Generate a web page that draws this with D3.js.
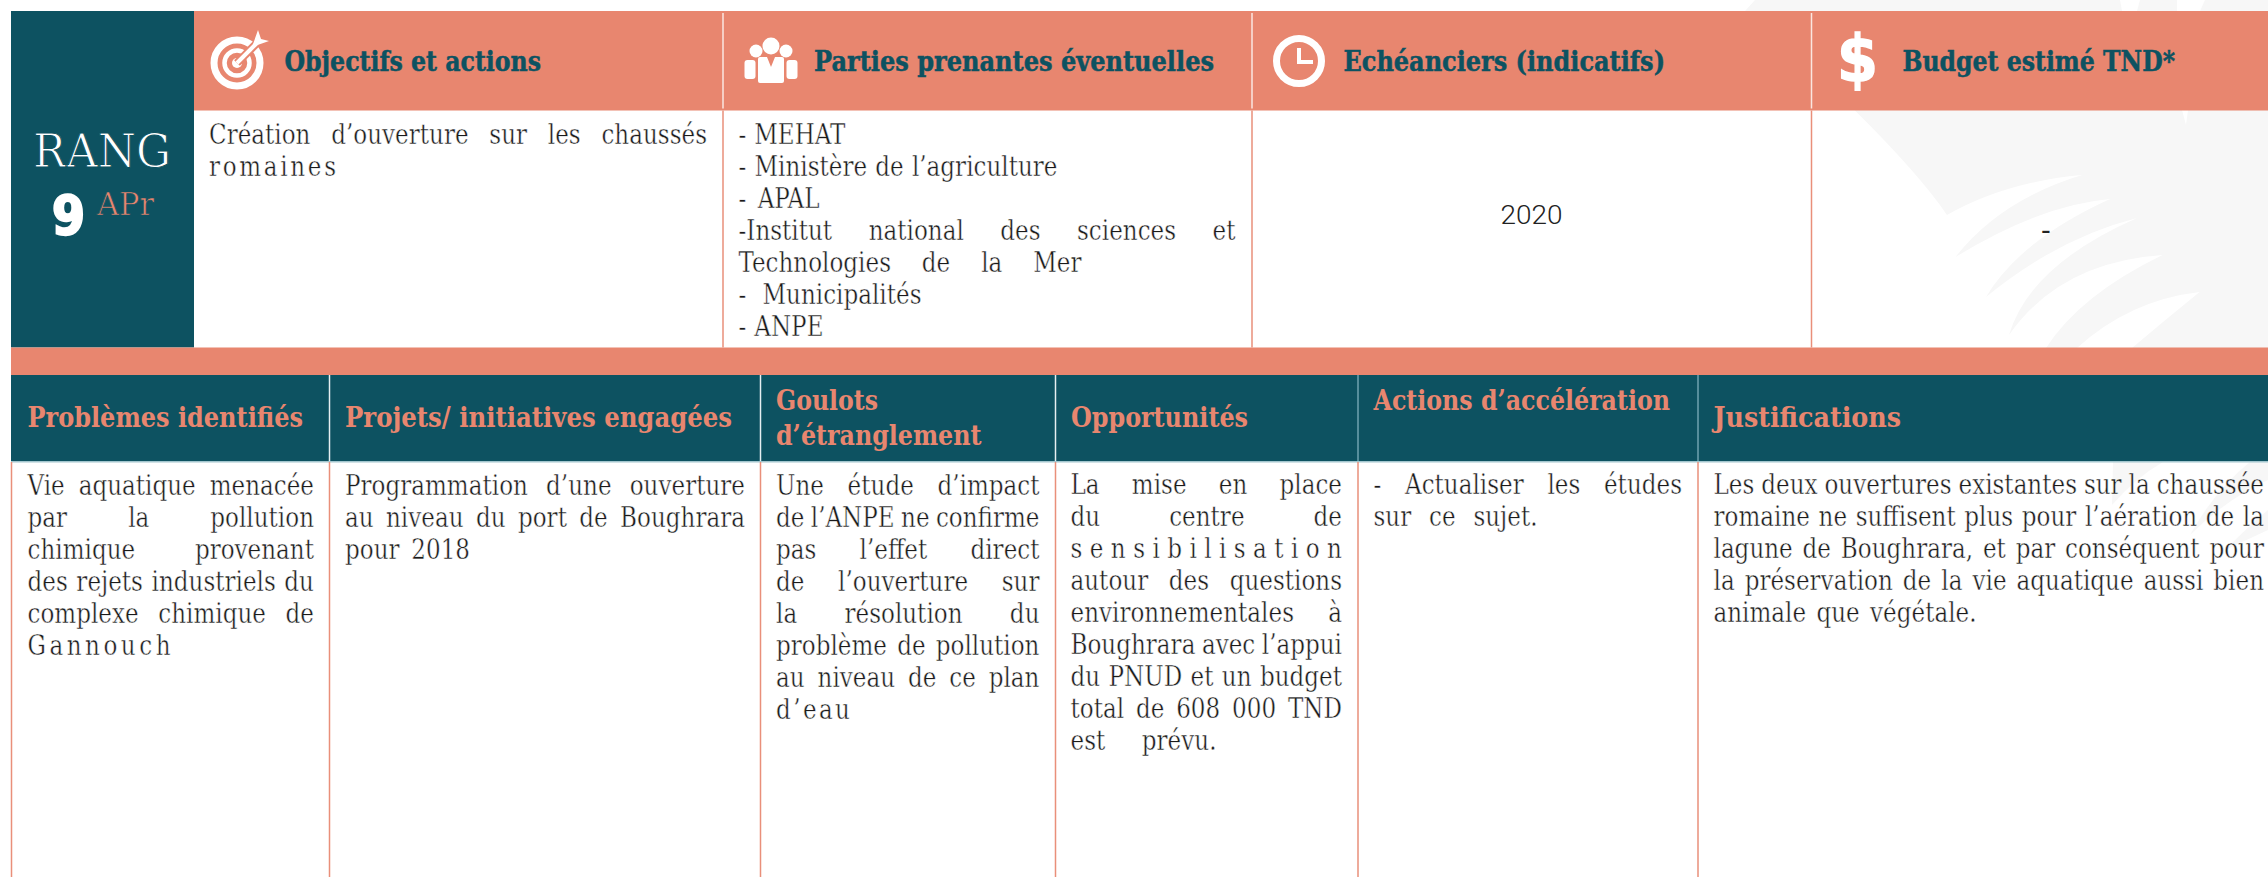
<!DOCTYPE html>
<html>
<head>
<meta charset="utf-8">
<script src="https://cdnjs.cloudflare.com/ajax/libs/d3/7.8.5/d3.min.js"></script>
<style>
  html, body { margin: 0; padding: 0; background: #fff; overflow: hidden; }
  svg { display: block; }
</style>
</head>
<body>
<div id="chart"></div>
<script>
// top table
var topColumns = ["Objectifs et actions", "Parties prenantes éventuelles", "Echéanciers (indicatifs)", "Budget estimé TND*"];
var objectifsLines = ["Création d’ouverture sur les chaussés", "romaines"];
var partiesLines = ["- MEHAT", "- Ministère de l’agriculture", "- APAL", "-Institut national des sciences et", "Technologies de la Mer", "- Municipalités", "- ANPE"];
var echeance = "2020";
var budget = "-";

// bottom table
var bottomColumns = ["Problèmes identifiés", "Projets/ initiatives engagées", "Goulots", "Opportunités", "Actions d’accélération", "Justifications"];
var problemesLines = ["Vie aquatique menacée", "par la pollution", "chimique provenant", "des rejets industriels du", "complexe chimique de", "Gannouch"];
var projetsLines = ["Programmation d’une ouverture", "au niveau du port de Boughrara", "pour 2018"];
var goulotsLines = ["Une étude d’impact", "de l’ANPE ne confirme", "pas l’effet direct", "de l’ouverture sur", "la résolution du", "problème de pollution", "au niveau de ce plan", "d’eau"];
var opportunitesLines = ["La mise en place", "du centre de", "sensibilisation", "autour des questions", "environnementales à", "Boughrara avec l’appui", "du PNUD et un budget", "total de 608 000 TND", "est prévu."];
var actionsLines = ["- Actualiser les études", "sur ce sujet."];
var justificationsLines = ["Les deux ouvertures existantes sur la chaussée", "romaine ne suffisent plus pour l’aération de la", "lagune de Boughrara, et par conséquent pour", "la préservation de la vie aquatique aussi bien", "animale que végétale."];

var width = 2268, height = 877;
var salmon = "#e8866f", teal = "#0d5261", rule = "#e98f7a";
var bodyFont = "'DejaVu Serif Condensed', 'DejaVu Serif', serif";
var bodySize = 27, bodyScaleX = 0.95, bodyPitch = 32;

var svg = d3.select("#chart").append("svg")
    .attr("width", width)
    .attr("height", height);

// palm watermark behind everything
var leaf = svg.append("g").attr("fill", "#f7f7f7");
leaf.append("path").attr("d", "M1854.5,110 Q1920,175 1947,215 Q2005,182 2082,175 Q2000,200 1955.5,257 Q2040,205 2110,199 Q2020,240 1986,297 Q2058,238 2137,218 Q2030,265 2009,335 Q2060,262 2162.5,255 Q2080,295 2046,348 L2077,348 Q2130,300 2199.6,292 Q2165,320 2132,348 L2268,348 L2268,110 Z");
leaf.append("path").attr("d", "M1745,11 L1755,0 L2072,0 L2072,11 L1767,11 L1784,0 L1800,0 L1783,11 Z");
leaf.append("path").attr("d", "M2072,0 L2120,0 L2122,11 L2072,11 Z M2140,0 L2177,0 L2177,11 L2137,11 Z M2205,0 L2268,0 L2268,11 L2200,11 Z");
leaf.append("path").attr("d", "M2113,462 L2163,462 Q2135,478 2112,505 Z");
leaf.append("path").attr("d", "M2190,535 Q2215,490 2250,462 L2268,462 L2268,480 Q2225,500 2190,535 Z");
leaf.append("path").attr("d", "M2225,550 Q2250,525 2268,510 L2268,530 Z");
svg.append("path").attr("fill", "#fff").attr("d", "M2182,110 L2188,110 L2186,125 Z");

// row bands
var rowEdges = d3.scaleOrdinal()
    .domain(["top", "headBottom", "rowBottom", "bandBottom", "darkBottom", "page"])
    .range([11, 110.5, 347.5, 375, 461, height]);
var xTop = d3.scaleOrdinal().domain(d3.range(5)).range([194, 723, 1252, 1811.5, width]);
var xBottom = d3.scaleOrdinal().domain(d3.range(7)).range([11.5, 329.5, 760.5, 1055.5, 1358, 1698, width]);

svg.append("rect").attr("x", 11).attr("y", rowEdges("top")).attr("width", width - 11).attr("height", rowEdges("headBottom") - rowEdges("top")).attr("fill", salmon);
svg.append("rect").attr("x", 11).attr("y", rowEdges("top")).attr("width", xTop(0) - 11).attr("height", rowEdges("rowBottom") - rowEdges("top")).attr("fill", teal);
svg.append("rect").attr("x", 11).attr("y", rowEdges("rowBottom")).attr("width", width - 11).attr("height", rowEdges("bandBottom") - rowEdges("rowBottom")).attr("fill", salmon);
svg.append("rect").attr("x", 11).attr("y", rowEdges("bandBottom")).attr("width", width - 11).attr("height", rowEdges("darkBottom") - rowEdges("bandBottom")).attr("fill", teal);
svg.append("rect").attr("x", 11).attr("y", rowEdges("darkBottom")).attr("width", width - 11).attr("height", 1.5).attr("fill", "#a3c6ce");

// column rules
[1, 2, 3].forEach(function(i) {
  svg.append("line").attr("x1", xTop(i)).attr("x2", xTop(i)).attr("y1", 13).attr("y2", rowEdges("headBottom") - 2).attr("stroke", "#fbe6e0").attr("stroke-width", 1.5);
  svg.append("line").attr("x1", xTop(i)).attr("x2", xTop(i)).attr("y1", rowEdges("headBottom")).attr("y2", rowEdges("rowBottom")).attr("stroke", rule).attr("stroke-width", 1.5);
});
[1, 2, 3, 4, 5].forEach(function(i) {
  svg.append("line").attr("x1", xBottom(i)).attr("x2", xBottom(i)).attr("y1", rowEdges("bandBottom")).attr("y2", rowEdges("darkBottom"))
      .attr("stroke", i > 3 ? "#6fa3b0" : "#e6eff1").attr("stroke-width", 1.5);
});
[0, 1, 2, 3, 4, 5].forEach(function(i) {
  svg.append("line").attr("x1", xBottom(i)).attr("x2", xBottom(i)).attr("y1", rowEdges("darkBottom") + 1).attr("y2", height).attr("stroke", rule).attr("stroke-width", 1.5);
});

// a line of body text: scaled narrow, then spread to the given width
function bodyLine(txt, x, y, fit) {
  var t = svg.append("text")
      .attr("transform", "translate(" + x + "," + y + ") scale(" + bodyScaleX + ",1)")
      .attr("font-family", bodyFont)
      .attr("font-size", bodySize)
      .attr("fill", "#1a1a1a")
      .attr("stroke", "#fff")
      .attr("stroke-width", 0.4)
      .text(txt);
  var natural = t.node().getComputedTextLength();
  var gaps = txt.split(" ").length - 1;
  var extra = fit / bodyScaleX - natural;
  if (gaps > 0) t.style("word-spacing", (extra / gaps) + "px");
  else t.style("letter-spacing", (extra / (txt.length - 1)) + "px");
  return t;
}

// lines that do not run to the full column width
var shortLines = {
  "romaines": 127, "- MEHAT": 107, "- Ministère de l’agriculture": 319, "- APAL": 81,
  "Technologies de la Mer": 343, "- Municipalités": 183, "- ANPE": 85,
  "Gannouch": 143, "pour 2018": 125, "d’eau": 74, "est prévu.": 146,
  "sur ce sujet.": 164, "animale que végétale.": 263
};

function bodyCell(lines, x0, x1, y0) {
  lines.forEach(function(l, i) {
    bodyLine(l, x0, y0 + i * bodyPitch, shortLines[l] || (x1 - x0));
  });
}

bodyCell(objectifsLines, 209, 707, 144);
bodyCell(partiesLines, 738.5, 1235.5, 144);
bodyCell(problemesLines, 27.5, 314, 495);
bodyCell(projetsLines, 345, 745, 495);
bodyCell(goulotsLines, 776, 1039.5, 495);
bodyCell(opportunitesLines, 1070.5, 1342, 494);
bodyCell(actionsLines, 1373.5, 1682, 494);
bodyCell(justificationsLines, 1713.5, 2264, 494);

svg.append("text").attr("x", 1500.5).attr("y", 224).attr("font-family", "Roboto, sans-serif").attr("font-weight", 300).attr("font-size", 26).attr("fill", "#222").attr("textLength", 62).attr("lengthAdjust", "spacingAndGlyphs").text(echeance);
svg.append("text").attr("x", 2046).attr("y", 241).attr("text-anchor", "middle").attr("font-family", "Roboto, sans-serif").attr("font-size", 30).attr("fill", "#222").text(budget);

// headers
function heading(txt, x, y, w, size, fam, fill, thick) {
  svg.append("text").attr("x", x).attr("y", y)
      .attr("font-family", fam).attr("font-weight", "bold").attr("font-size", size)
      .attr("fill", fill).attr("stroke", fill).attr("stroke-width", thick)
      .attr("textLength", w).attr("lengthAdjust", "spacingAndGlyphs")
      .text(txt);
}
var topFont = "'DejaVu Serif', serif", botFont = "'DejaVu Serif Condensed', 'DejaVu Serif', serif";
heading(topColumns[0], 284.5, 70.5, 256.5, 27, topFont, teal, 0.5);
heading(topColumns[1], 814, 70.5, 400, 27, topFont, teal, 0.5);
heading(topColumns[2], 1343.5, 70.5, 321.5, 27, topFont, teal, 0.5);
heading(topColumns[3], 1902.5, 70.5, 272.5, 27, topFont, teal, 0.5);

heading(bottomColumns[0], 27.5, 427, 275.5, 27, botFont, salmon, 0);
heading(bottomColumns[1], 345, 427, 387, 27, botFont, salmon, 0);
heading(bottomColumns[2], 776, 410, 102, 27, botFont, salmon, 0);
heading("d’étranglement", 776, 445, 205.5, 27, botFont, salmon, 0);
heading(bottomColumns[3], 1071, 427, 177, 27, botFont, salmon, 0);
heading(bottomColumns[4], 1373.5, 410, 296.5, 27, botFont, salmon, 0);
heading(bottomColumns[5], 1713.5, 427, 187.5, 27, botFont, salmon, 0);

// rank block
svg.append("text").attr("x", 33).attr("y", 167).attr("font-family", bodyFont).attr("font-size", 47).attr("fill", "#fff").attr("stroke", teal).attr("stroke-width", 1).attr("textLength", 138).attr("lengthAdjust", "spacingAndGlyphs").text("RANG");
svg.append("text").attr("x", 52).attr("y", 234).attr("font-family", "'DejaVu Sans', sans-serif").attr("font-weight", "bold").attr("font-size", 54).attr("fill", "#fff").attr("stroke", "#fff").attr("stroke-width", 2.5).attr("textLength", 33).attr("lengthAdjust", "spacingAndGlyphs").text("9");
svg.append("text").attr("x", 97).attr("y", 215).attr("font-family", bodyFont).attr("font-size", 31).attr("fill", salmon).attr("stroke", teal).attr("stroke-width", 0.7).attr("textLength", 57).attr("lengthAdjust", "spacingAndGlyphs").text("APr");

// icons
var icons = svg.append("g").attr("fill", "#fff").attr("stroke", "none");

// target
var target = icons.append("g").attr("transform", "translate(237,63)");
target.append("circle").attr("r", 23).attr("fill", "none").attr("stroke", "#fff").attr("stroke-width", 7);
target.append("circle").attr("r", 12.5).attr("fill", "none").attr("stroke", "#fff").attr("stroke-width", 4.5);
target.append("circle").attr("r", 5);
target.append("line").attr("x1", 0).attr("y1", 0).attr("x2", 22).attr("y2", -22).attr("stroke", salmon).attr("stroke-width", 8);
target.append("line").attr("x1", 0).attr("y1", 0).attr("x2", 20).attr("y2", -20).attr("stroke", "#fff").attr("stroke-width", 4);
target.append("path").attr("d", "M15,-16 L21,-33 L24,-24 L32,-22 Z");

// people
var people = icons.append("g").attr("transform", "translate(771,60)");
people.append("circle").attr("cx", -15).attr("cy", -9).attr("r", 6.5);
people.append("circle").attr("cx", 15).attr("cy", -9).attr("r", 6.5);
people.append("circle").attr("cx", 0).attr("cy", -14).attr("r", 8.5);
people.append("rect").attr("x", -26.5).attr("y", 0).attr("width", 11).attr("height", 19).attr("rx", 3);
people.append("rect").attr("x", 15.5).attr("y", 0).attr("width", 11).attr("height", 19).attr("rx", 3);
people.append("rect").attr("x", -13).attr("y", -3).attr("width", 26).attr("height", 26).attr("rx", 2);
people.append("path").attr("d", "M-4,-3 L0,7 L4,-3 Z").attr("fill", salmon);

// clock
var clock = icons.append("g").attr("transform", "translate(1299,61)");
clock.append("circle").attr("r", 22.5).attr("fill", "none").attr("stroke", "#fff").attr("stroke-width", 7);
clock.append("path").attr("d", "M-2,-13 L2,-13 L2,-1 L14,-1 L14,3 L-2,3 Z");

// dollar
svg.append("text").attr("x", 1837).attr("y", 81).attr("font-family", "'DejaVu Sans', sans-serif").attr("font-weight", "bold").attr("font-size", 64).attr("fill", "#fff").attr("stroke", "#fff").attr("stroke-width", 1.5).attr("textLength", 41).attr("lengthAdjust", "spacingAndGlyphs").text("$");
</script>
</body>
</html>
